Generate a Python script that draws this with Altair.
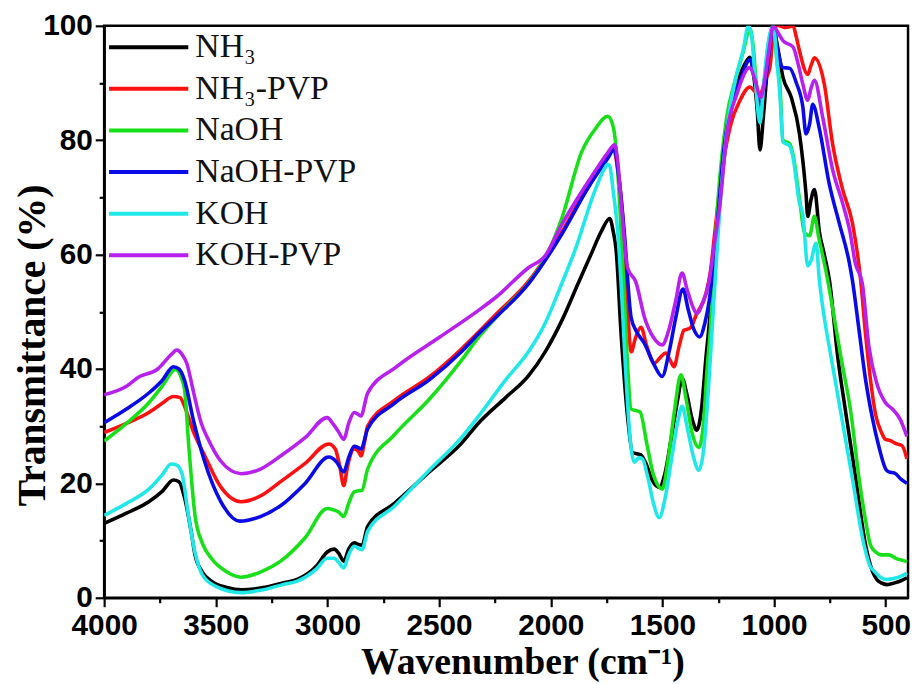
import altair as alt
import pandas as pd

series_names = ["NH₃", "NH₃-PVP", "NaOH", "NaOH-PVP", "KOH", "KOH-PVP"]
series_colors = ["#000000", "#ff1010", "#18e018", "#0a0ae6", "#20e8e8", "#b820ee"]

nh3_wn = [4000, 3900, 3800, 3740, 3690, 3665, 3640, 3610, 3593, 3560, 3520, 3450, 3386, 3300, 3200, 3135,
          3050, 3001, 2970, 2950, 2927, 2905, 2880, 2860, 2845, 2820, 2700, 2544, 2400, 2322, 2202, 2100,
          2025, 1950, 1878, 1820, 1773, 1736, 1720, 1707, 1685, 1656, 1634, 1597, 1574, 1545, 1514, 1490,
          1460, 1430, 1412, 1390, 1365, 1346, 1325, 1305, 1285, 1270, 1250, 1226, 1200, 1167, 1135, 1108,
          1090, 1075, 1063, 1048, 1030, 1015, 1004, 985, 960, 923, 886, 857, 849, 835, 819, 797, 775, 752,
          715, 679, 634, 590, 560, 540, 520, 494, 460, 430, 405]
nh3_t = [13.0, 14.8, 16.8, 18.6, 20.6, 20.3, 17.5, 11.5, 7.5, 4.5, 2.9, 1.8, 1.4, 1.7, 2.6, 3.2,
         5.5, 8.0, 8.5, 7.8, 6.4, 8.5, 9.6, 9.3, 9.2, 12.5, 16.5, 22.0, 27.0, 30.6, 35.0, 38.8,
         43.0, 48.5, 54.9, 60.0, 64.1, 66.3, 64.0, 60.7, 46.2, 31.7, 25.4, 25.0, 23.5, 20.5, 19.3, 21.5,
         28.0, 35.0, 38.4, 35.5, 31.0, 29.3, 33.0, 42.0, 50.0, 57.0, 67.0, 76.0, 83.5, 89.5, 93.0, 94.5,
         91.0, 85.0, 78.3, 84.0, 92.5, 97.5, 100.0, 96.5, 91.0, 87.5, 81.1, 70.7, 66.7, 69.5, 71.4, 64.0, 60.0, 55.5,
         42.2, 32.4, 20.8, 9.2, 4.7, 3.2, 2.6, 2.3, 2.6, 3.0, 3.5]

nh3pvp_wn = [4000, 3900, 3800, 3740, 3690, 3660, 3640, 3600, 3549, 3480, 3386, 3300, 3210, 3100, 2994, 2965,
             2945, 2927, 2910, 2880, 2860, 2850, 2835, 2820, 2700, 2544, 2400, 2322, 2247, 2100, 1950, 1834,
             1745, 1720, 1700, 1685, 1670, 1655, 1640, 1620, 1596, 1570, 1537, 1510, 1485, 1465, 1448, 1425,
             1403, 1385, 1374, 1346, 1307, 1285, 1265, 1241, 1197, 1152, 1108, 1085, 1063, 1040, 1019, 997,
             975, 953, 935, 915, 900, 886, 849, 835, 819, 775, 738, 693, 649, 612, 590, 568, 545, 520, 501,
             480, 457, 427, 405]
nh3pvp_t = [28.9, 30.5, 32.4, 34.0, 35.2, 35.0, 33.5, 29.0, 24.8, 19.5, 16.8, 17.8, 20.3, 23.5, 26.9, 26.0,
            23.0, 19.6, 23.0, 26.0, 25.5, 24.8, 27.0, 30.0, 34.5, 38.6, 43.5, 46.5, 49.5, 55.3, 64.0, 72.0,
            77.5, 78.5, 75.0, 70.0, 62.0, 50.0, 43.0, 45.5, 47.3, 44.0, 41.0, 42.0, 42.8, 41.5, 40.4, 44.0,
            46.8, 47.0, 47.2, 49.7, 52.9, 57.0, 64.0, 72.4, 82.3, 87.0, 89.3, 88.5, 88.0, 90.5, 92.7, 100.0,
            100.0, 99.7, 99.8, 100.0, 98.0, 95.6, 91.5, 93.0, 94.4, 89.8, 79.4, 71.4, 65.5, 55.5, 46.0, 38.1, 32.0, 29.0, 27.7,
            27.5, 27.0, 26.6, 24.3]

naoh_wn = [4000, 3900, 3800, 3740, 3680, 3655, 3640, 3620, 3593, 3560, 3520, 3450, 3386, 3300, 3210, 3100,
           3001, 2975, 2950, 2927, 2905, 2880, 2860, 2845, 2820, 2700, 2544, 2400, 2322, 2202, 2100, 2025,
           1950, 1861, 1800, 1745, 1725, 1710, 1692, 1670, 1655, 1640, 1600, 1570, 1540, 1500, 1475, 1445,
           1417, 1395, 1365, 1337, 1315, 1300, 1285, 1270, 1250, 1212, 1174, 1137, 1108, 1095, 1080, 1063,
           1045, 1025, 1004, 985, 974, 960, 930, 915, 886, 863, 841, 819, 800, 767, 735, 701, 656, 619, 590,
           568, 545, 520, 486, 450, 420, 405]
naoh_t = [27.4, 30.5, 34.1, 37.0, 39.9, 38.5, 36.4, 26.0, 14.4, 9.5, 6.9, 4.5, 3.6, 4.5, 6.4, 10.5,
          15.6, 15.4, 15.0, 14.2, 16.5, 18.5, 18.7, 18.8, 22.5, 28.5, 34.7, 41.5, 45.6, 50.8, 55.0, 59.4,
          66.4, 78.0, 82.0, 84.2, 83.0, 79.7, 69.3, 52.0, 40.0, 33.0, 32.5, 27.0, 21.5, 19.0, 24.0, 33.0,
          39.0, 35.0, 28.5, 26.3, 31.0, 40.0, 47.0, 57.7, 70.0, 84.0, 90.5, 95.6, 99.5, 97.0, 90.0, 84.0,
          90.0, 97.0, 100.0, 93.0, 89.8, 80.0, 79.4, 77.5, 69.7, 63.8, 63.3, 66.7, 63.0, 57.0, 50.0, 42.2, 32.4, 20.8, 13.5,
          9.2, 8.0, 7.5, 7.5, 6.8, 6.5, 6.3]

naohpvp_wn = [4000, 3900, 3800, 3740, 3690, 3665, 3640, 3600, 3549, 3480, 3393, 3300, 3210, 3100, 2994, 2960,
              2927, 2905, 2880, 2860, 2850, 2820, 2700, 2544, 2400, 2322, 2247, 2100, 1950, 1834, 1745, 1714,
              1700, 1685, 1670, 1640, 1618, 1581, 1540, 1501, 1470, 1440, 1408, 1385, 1360, 1333, 1310, 1290,
              1270, 1255, 1226, 1185, 1150, 1108, 1085, 1063, 1040, 1020, 1004, 985, 960, 930, 900, 871, 857,
              840, 827, 797, 753, 708, 663, 649, 620, 590, 560, 531, 500, 486, 460, 433, 405]
naohpvp_t = [30.6, 33.0, 35.8, 38.0, 40.4, 40.0, 38.0, 31.0, 23.7, 17.0, 13.4, 14.2, 16.1, 20.0, 24.6, 23.8,
             22.0, 24.5, 26.5, 26.2, 26.0, 29.5, 34.0, 38.1, 43.0, 46.2, 49.0, 54.9, 63.6, 71.6, 76.8, 78.5,
             75.0, 70.0, 63.6, 49.0, 46.7, 44.5, 41.0, 38.7, 43.0, 49.0, 54.0, 50.5, 47.0, 45.6, 48.0, 52.0,
             59.0, 65.0, 78.0, 87.0, 90.6, 94.1, 90.5, 86.3, 90.0, 96.0, 100.0, 96.0, 92.7, 92.6, 90.0, 85.8, 81.1,
             83.0, 86.3, 82.0, 72.4, 65.5, 58.6, 55.5, 47.0, 38.1, 31.5, 26.5, 22.5, 22.0, 21.8, 20.8, 20.0]

koh_wn = [4000, 3900, 3800, 3740, 3700, 3675, 3650, 3625, 3593, 3560, 3500, 3386, 3300, 3200, 3135, 3050,
          3001, 2970, 2950, 2927, 2905, 2880, 2860, 2845, 2820, 2700, 2544, 2400, 2322, 2202, 2100, 2025,
          1950, 1892, 1803, 1760, 1745, 1736, 1720, 1700, 1685, 1665, 1645, 1625, 1605, 1590, 1565, 1540,
          1514, 1490, 1460, 1430, 1412, 1390, 1360, 1337, 1315, 1300, 1285, 1270, 1250, 1226, 1200, 1167,
          1137, 1115, 1100, 1085, 1063, 1048, 1030, 1004, 985, 974, 960, 930, 915, 886, 871, 849, 834, 812,
          797, 775, 745, 701, 649, 597, 570, 553, 520, 500, 460, 430, 405]
koh_t = [14.4, 16.5, 19.0, 21.5, 23.4, 23.2, 21.5, 15.0, 7.9, 4.0, 2.0, 0.9, 1.3, 2.3, 2.9, 5.0,
         6.9, 6.9, 6.2, 5.2, 7.5, 9.0, 8.6, 8.4, 11.6, 16.0, 22.3, 28.0, 31.8, 38.1, 43.0, 48.0,
         55.0, 60.7, 71.1, 75.0, 75.8, 75.5, 71.0, 64.0, 55.0, 40.0, 28.0, 23.7, 24.5, 24.3, 21.0, 16.5,
         14.0, 17.0, 24.0, 31.0, 33.5, 30.0, 24.5, 22.3, 26.0, 33.0, 42.0, 51.5, 64.0, 76.0, 85.0, 91.5,
         96.0, 100.0, 98.0, 91.0, 83.0, 89.0, 96.0, 100.0, 93.0, 88.0, 79.7, 79.0, 77.0, 69.0, 67.0, 58.0, 59.0, 62.0,
         55.5, 49.0, 42.2, 32.4, 20.8, 9.2, 5.5, 4.7, 3.5, 3.2, 3.4, 3.8, 4.3]

kohpvp_wn = [4000, 3900, 3845, 3760, 3700, 3675, 3650, 3630, 3600, 3565, 3534, 3480, 3386, 3300, 3210, 3100,
             3001, 2975, 2950, 2927, 2905, 2880, 2860, 2850, 2820, 2690, 2500, 2322, 2247, 2100, 2025, 1950,
             1803, 1745, 1714, 1700, 1685, 1656, 1618, 1580, 1540, 1501, 1470, 1440, 1412, 1390, 1365, 1346,
             1320, 1290, 1270, 1241, 1212, 1167, 1108, 1085, 1060, 1040, 1020, 1004, 985, 960, 915, 890, 871,
             849, 835, 819, 782, 738, 693, 660, 636, 605, 575, 540, 501, 470, 435, 405]
kohpvp_t = [35.5, 37.0, 38.6, 40.0, 42.5, 43.3, 42.5, 41.0, 36.0, 30.5, 27.7, 24.0, 21.7, 22.5, 24.8, 28.0,
            31.5, 30.4, 29.0, 27.7, 30.5, 32.4, 32.0, 31.8, 35.8, 40.4, 45.5, 50.3, 52.5, 57.7, 59.8, 65.3,
            74.5, 77.8, 79.2, 76.3, 69.3, 57.7, 55.1, 49.0, 45.5, 44.2, 47.0, 52.0, 56.8, 54.0, 51.0, 49.7,
            51.5, 55.5, 61.0, 69.3, 81.0, 88.0, 92.7, 90.5, 87.5, 91.0, 96.5, 100.0, 99.0, 97.4, 96.3, 93.0, 89.8,
            87.0, 89.0, 90.5, 84.0, 74.9, 69.0, 64.0, 58.5, 55.0, 43.9, 37.5, 34.1, 33.0, 31.2, 28.2]

frames = []
for name, wn, t in [
    (series_names[0], nh3_wn, nh3_t),
    (series_names[1], nh3pvp_wn, nh3pvp_t),
    (series_names[2], naoh_wn, naoh_t),
    (series_names[3], naohpvp_wn, naohpvp_t),
    (series_names[4], koh_wn, koh_t),
    (series_names[5], kohpvp_wn, kohpvp_t),
]:
    frames.append(pd.DataFrame({"wn": wn, "t": t, "sample": name}))
df = pd.concat(frames, ignore_index=True)
df["order"] = df["sample"].map({n: i for i, n in enumerate(series_names)})

x_ticks = list(range(4000, 499, -250))
y_ticks = list(range(0, 101, 10))

chart = alt.Chart(df).mark_line(strokeWidth=3.6, interpolate="monotone", clip=True).encode(
    x=alt.X(
        "wn:Q",
        scale=alt.Scale(domain=[4000, 400], nice=False, zero=False),
        axis=alt.Axis(
            values=x_ticks,
            format="d",
            labelFlush=False,
            labelPadding=4,
            labelExpr="datum.value % 500 === 0 ? datum.label : ''",
            title="Wavenumber (cm⁻¹)",
            titleX=422,
            titleY=76,
            titleBaseline="alphabetic",
            tickSize={"condition": {"test": "datum.value % 500 === 0", "value": 9}, "value": 5},
        ),
    ),
    y=alt.Y(
        "t:Q",
        scale=alt.Scale(domain=[0, 100], nice=False),
        axis=alt.Axis(
            values=y_ticks,
            labelExpr="datum.value % 20 === 0 ? datum.label : ''",
            title="Transmittance (%)",
            titleX=-60,
            titleY=322,
            titleAngle=-90,
            titleAlign="center",
            titleBaseline="alphabetic",
            tickSize={"condition": {"test": "datum.value % 20 === 0", "value": 9}, "value": 5},
        ),
    ),
    color=alt.Color(
        "sample:N",
        scale=alt.Scale(domain=series_names, range=series_colors),
        sort=series_names,
        legend=alt.Legend(
            title=None,
            orient="none",
            legendX=5,
            legendY=1,
            padding=0,
            symbolType="M-1.11,0H3.21",
            symbolSize=1369,
            symbolStrokeWidth=4,
            labelFont="Liberation Serif",
            labelFontSize=34,
            labelFontWeight="normal",
            labelColor="#111111",
            labelOffset=46,
            rowPadding=4,
            labelLimit=400,
        ),
    ),
    order=alt.Order("order:Q"),
    detail="sample:N",
).properties(
    width=811,
    height=577,
    autosize=alt.AutoSizeParams(type="none"),
    padding={"left": 97, "top": 15, "right": 3, "bottom": 84},
).configure_view(
    stroke="black", strokeWidth=2.5
).configure_axis(
    domainColor="black",
    domainWidth=2.5,
    tickColor="black",
    tickWidth=2.2,
    grid=False,
    labelFont="Liberation Sans",
    labelFontWeight="bold",
    labelFontSize=30,
    labelColor="black",
    labelPadding=3,
    titleFont="Liberation Serif",
    titleFontWeight="bold",
    titleColor="black",
).configure_axisX(
    titleFontSize=38,
).configure_axisY(
    titleFontSize=40,
)

chart.save("out.html", embed_options={"renderer": "svg", "actions": False})
